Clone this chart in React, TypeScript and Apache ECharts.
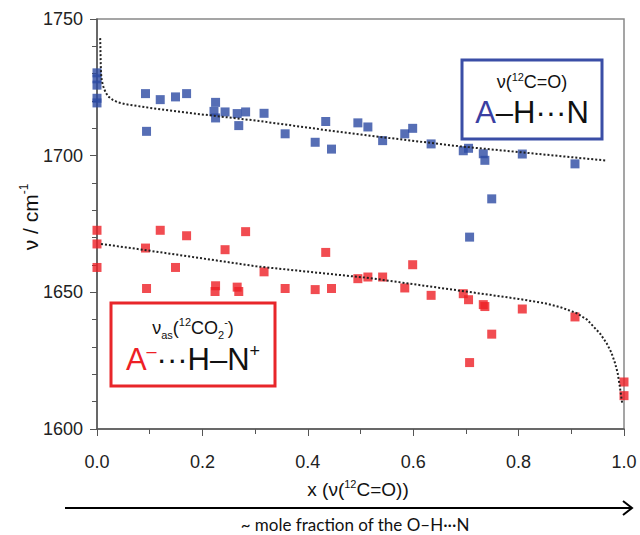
import React, { useEffect, useRef } from "react";
import * as echarts from "echarts";

const xTicks = [0, 0.2, 0.4, 0.6, 0.8, 1.0];
const yTicks = [1600, 1650, 1700, 1750];

// A–H···N  (ν(12C=O)), blue
const blueX = [0, 0, 0, 0, 0, 0.092, 0.094, 0.12, 0.149, 0.17, 0.225, 0.222, 0.225, 0.243, 0.266, 0.269, 0.282, 0.317, 0.357, 0.414, 0.434, 0.445, 0.495, 0.514, 0.542, 0.584, 0.599, 0.634, 0.695, 0.705, 0.707, 0.733, 0.736, 0.749, 0.807, 0.907];
const blueY = [1730.3, 1728.1, 1725.8, 1721, 1719.3, 1722.7, 1708.9, 1720.5, 1721.5, 1722.7, 1719.5, 1716.2, 1713.8, 1716, 1715.4, 1711, 1716, 1715.5, 1708, 1704.9, 1712.5, 1702.4, 1712, 1710.5, 1705.5, 1708, 1710, 1704.3, 1701.8, 1702.7, 1670.2, 1700.7, 1698.3, 1684.2, 1700.6, 1697];

// A−···H–N+  (νas(12CO2−)), red
const redX = [0, 0, 0, 0.092, 0.094, 0.12, 0.149, 0.17, 0.225, 0.224, 0.243, 0.266, 0.269, 0.282, 0.317, 0.357, 0.414, 0.434, 0.445, 0.495, 0.514, 0.542, 0.584, 0.599, 0.634, 0.695, 0.705, 0.707, 0.733, 0.736, 0.749, 0.807, 0.907, 1.0, 1.0];
const redY = [1672.7, 1667.7, 1659.1, 1666.2, 1651.4, 1672.7, 1659.1, 1670.7, 1652.4, 1650.3, 1665.6, 1651.9, 1650.3, 1672.2, 1657.5, 1651.4, 1651, 1664.6, 1651.4, 1655, 1655.6, 1655.6, 1651.6, 1660.1, 1648.9, 1649.5, 1647.3, 1624.3, 1645.5, 1644.8, 1634.7, 1643.9, 1641, 1617.2, 1612.2];

// dotted fit curves
const blueFitX = [0.006, 0.0065, 0.007, 0.0076, 0.009, 0.012, 0.016, 0.021, 0.03, 0.04, 0.055, 0.069, 0.1, 0.176, 0.303, 0.429, 0.518, 0.689, 0.967];
const blueFitY = [1743, 1739, 1734, 1730.2, 1727.5, 1725.3, 1723.3, 1721.7, 1720.4, 1719.5, 1718.8, 1718.4, 1717.5, 1715.6, 1712.8, 1709.5, 1707.3, 1703.4, 1698.2];
const redFitX = [0.0076, 0.072, 0.176, 0.303, 0.518, 0.689, 0.8, 0.85, 0.879, 0.91, 0.93, 0.942, 0.955, 0.967, 0.976, 0.983, 0.988, 0.992, 0.9965];
const redFitY = [1667.7, 1666, 1663.1, 1659.5, 1655.2, 1650.6, 1647.6, 1646, 1644.6, 1642.4, 1640, 1637.5, 1634.8, 1631.4, 1628, 1624.1, 1620.5, 1615.6, 1609.5];

const zip = (a: number[], b: number[]) => a.map((v, i) => [v, b[i]]);

const FONT = "Liberation Sans";
const BLUE = "#2c4aa2";
const RED = "#ee1f26";

export default function App() {
  const ref = useRef<HTMLDivElement>(null);
  useEffect(() => {
    if (!ref.current) return;
    const chart = echarts.init(ref.current, null, { renderer: "svg" });
    const supSmall = { fontSize: 11, lineHeight: 12, verticalAlign: "top", fontFamily: FONT, fill: "#111" };
    const subSmall = { fontSize: 11, lineHeight: 12, verticalAlign: "bottom", fontFamily: FONT, fill: "#111" };
    chart.setOption({
      animation: false,
      textStyle: { fontFamily: FONT },
      grid: { left: 97, right: 16, top: 19, bottom: 106, show: true, borderColor: "#888", borderWidth: 1.5 },
      xAxis: {
        type: "value", min: xTicks[0], max: xTicks[xTicks.length - 1], interval: 0.2,
        axisLine: { show: true, lineStyle: { color: "#555", width: 1.5 } },
        axisTick: { show: true, length: 7, lineStyle: { color: "#555" } },
        minorTick: { show: true, splitNumber: 2, length: 5, lineStyle: { color: "#555" } },
        splitLine: { show: false },
        axisLabel: { fontSize: 18, fontFamily: FONT, color: "#222", margin: 24, formatter: (v: number) => v.toFixed(1) },
      },
      yAxis: {
        type: "value", min: yTicks[0], max: yTicks[yTicks.length - 1], interval: 50,
        axisLine: { show: true, lineStyle: { color: "#555", width: 1.5 } },
        axisTick: { show: true, length: 7, lineStyle: { color: "#555" } },
        minorTick: { show: true, splitNumber: 5, length: 5, lineStyle: { color: "#555" } },
        splitLine: { show: false },
        axisLabel: { fontSize: 18, fontFamily: FONT, color: "#222", margin: 14, formatter: (v: number) => String(v) },
      },
      series: [
        { type: "line", data: zip(blueFitX, blueFitY), symbol: "none", smooth: false, lineStyle: { type: "dotted", color: "#222", width: 2 }, z: 3 },
        { type: "line", data: zip(redFitX, redFitY), symbol: "none", smooth: false, lineStyle: { type: "dotted", color: "#222", width: 2 }, z: 3 },
        { type: "scatter", data: zip(blueX, blueY), symbol: "rect", symbolSize: 9, itemStyle: { color: BLUE }, z: 2 },
        { type: "scatter", data: zip(redX, redY), symbol: "rect", symbolSize: 9, itemStyle: { color: RED }, z: 2 },
      ],
      graphic: [
        // y axis title
        {
          type: "text", x: 30, y: 217, rotation: Math.PI / 2, z: 10,
          style: {
            text: "{n|ν / cm}{s|-1}", x: 0, y: 0, align: "center", verticalAlign: "middle",
            rich: { n: { fontSize: 21, lineHeight: 24, fontFamily: FONT, fill: "#111" }, s: { ...supSmall, fontSize: 12 } },
          },
        },
        // x axis title
        {
          type: "text", x: 358, y: 489, z: 10,
          style: {
            text: "{n|x (ν(}{s|12}{n|C=O))}", align: "center", verticalAlign: "middle",
            rich: { n: { fontSize: 19, lineHeight: 22, fontFamily: FONT, fill: "#111" }, s: supSmall },
          },
        },
        // arrow
        { type: "line", shape: { x1: 65, y1: 508, x2: 631, y2: 508 }, style: { stroke: "#000", lineWidth: 2 } },
        { type: "polyline", shape: { points: [[623, 501], [632, 508], [623, 515]] }, style: { stroke: "#000", lineWidth: 2, fill: null } },
        {
          type: "text", x: 355, y: 524, z: 10,
          style: { text: "~ mole fraction of the O–H···N", align: "center", verticalAlign: "middle", fontSize: 17, fontFamily: "Lato", fill: "#111" },
        },
        // blue box
        { type: "rect", shape: { x: 462, y: 60, width: 140, height: 79 }, style: { fill: "#fff", stroke: "#3a4ea6", lineWidth: 3 }, z: 5 },
        {
          type: "text", x: 532, y: 82, z: 10,
          style: {
            text: "{n|ν(}{s|12}{n|C=O)}", align: "center", verticalAlign: "middle",
            rich: { n: { fontSize: 18, lineHeight: 22, fontFamily: FONT, fill: "#111" }, s: supSmall },
          },
        },
        {
          type: "text", x: 532, y: 112, z: 10,
          style: {
            text: "{a|A}{n|–H···N}", align: "center", verticalAlign: "middle",
            rich: { a: { fontSize: 31, fontFamily: FONT, fill: "#3b3fa2" }, n: { fontSize: 31, fontFamily: FONT, fill: "#111" } },
          },
        },
        // red box
        { type: "rect", shape: { x: 111, y: 303, width: 164, height: 83 }, style: { fill: "#fff", stroke: "#e8262a", lineWidth: 3 }, z: 5 },
        {
          type: "text", x: 193, y: 328, z: 10,
          style: {
            text: "{n|ν}{b|as}{n|(}{s|12}{n|CO}{b|2}{s|-}{n|)}", align: "center", verticalAlign: "middle",
            rich: { n: { fontSize: 18, lineHeight: 24, fontFamily: FONT, fill: "#111" }, s: supSmall, b: subSmall },
          },
        },
        {
          type: "text", x: 193, y: 359, z: 10,
          style: {
            text: "{a|A}{as|–}{n|···H–N}{s|+}", align: "center", verticalAlign: "middle",
            rich: {
              a: { fontSize: 31, lineHeight: 34, fontFamily: FONT, fill: RED },
              as: { fontSize: 18, lineHeight: 20, verticalAlign: "top", fontFamily: FONT, fill: RED },
              n: { fontSize: 31, lineHeight: 34, fontFamily: FONT, fill: "#111" },
              s: { fontSize: 18, lineHeight: 20, verticalAlign: "top", fontFamily: FONT, fill: "#111" },
            },
          },
        },
      ],
    });
    return () => chart.dispose();
  }, []);
  return <div ref={ref} style={{ width: 640, height: 535, position: "absolute", left: 0, top: 0 }} />;
}
